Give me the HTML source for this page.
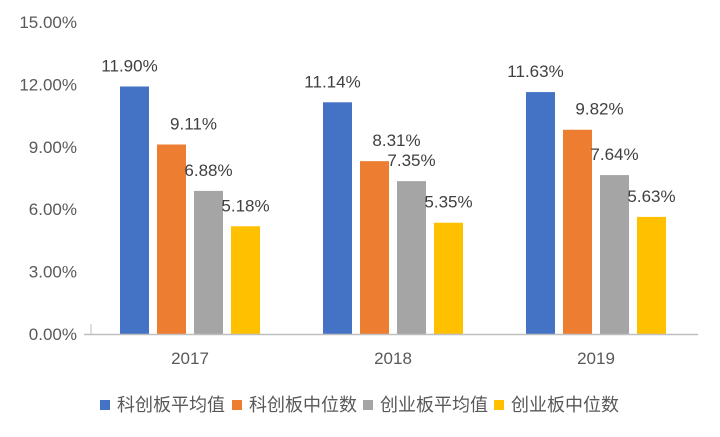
<!DOCTYPE html>
<html><head><meta charset="utf-8"><style>
body{margin:0;background:#fff;}
svg text{font-family:"Liberation Sans","Noto Sans CJK SC",sans-serif;}
</style></head><body>
<svg width="720" height="432" viewBox="0 0 720 432">
<g id="yaxis"></g>
<g id="bars"></g>
<g id="xaxis"></g>
<g id="legend"></g>
</svg>
<script>
const categories=["2017","2018","2019"];
const seriesNames=["科创板平均值","科创板中位数","创业板平均值","创业板中位数"];
const s1=[11.90,11.14,11.63];
const s2=[9.11,8.31,9.82];
const s3=[6.88,7.35,7.64];
const s4=[5.18,5.35,5.63];
const yTicks=[0,3,6,9,12,15];
const colors=["#4472c4","#ed7d31","#a5a5a5","#ffc000"];
const labelShift=[-5,22,0,0];
const series=[s1,s2,s3,s4];
const NS="http://www.w3.org/2000/svg";
const x0=88.5,catW=203,y0=334,yTop=22,yMax=15;
const y=v=>y0-(v/yMax)*(y0-yTop);
function mk(t,a,p){const e=document.createElementNS(NS,t);for(const k in a)e.setAttribute(k,a[k]);p.appendChild(e);return e;}
const ya=document.getElementById('yaxis');
yTicks.forEach(t=>{const e=mk('text',{x:77,y:y(t)+6,'text-anchor':'end','font-size':17,fill:'#595959'},ya);e.textContent=t.toFixed(2)+'%';

});
const bg=document.getElementById('bars');
const bw=29,step=37,groupW=bw+3*step;
series.forEach((s,si)=>{s.forEach((v,ci)=>{
const bx=x0+ci*catW+(catW-groupW)/2+si*step;
const r=mk('rect',{x:bx,y:y(v),width:bw,height:y0-y(v),fill:colors[si]},bg);


const t=mk('text',{x:bx+bw/2+labelShift[si],y:y(v)-15,'text-anchor':'middle','font-size':17,fill:'#404040'},bg);
t.textContent=v.toFixed(2)+'%';


});});
const xa=document.getElementById('xaxis');
const al=mk('line',{x1:84,x2:698,y1:y0+0.5,y2:y0+0.5,stroke:'#bfbfbf','stroke-width':1.5},xa);


const tk=mk('line',{x1:91,x2:91,y1:y0-10,y2:y0,stroke:'#bfbfbf','stroke-width':1},xa);
categories.forEach((c,ci)=>{const t=mk('text',{x:x0+ci*catW+catW/2,y:364,'text-anchor':'middle','font-size':17,fill:'#595959'},xa);t.textContent=c;

});
const lg=document.getElementById('legend');
const lx=[100,232,363,494];
seriesNames.forEach((n,i)=>{
const r=mk('rect',{x:lx[i],y:400,width:10,height:10,fill:colors[i]},lg);


const t=mk('text',{x:lx[i]+17,y:411,'font-size':18,fill:'#595959'},lg);t.textContent=n;


});
</script>
</body></html>
